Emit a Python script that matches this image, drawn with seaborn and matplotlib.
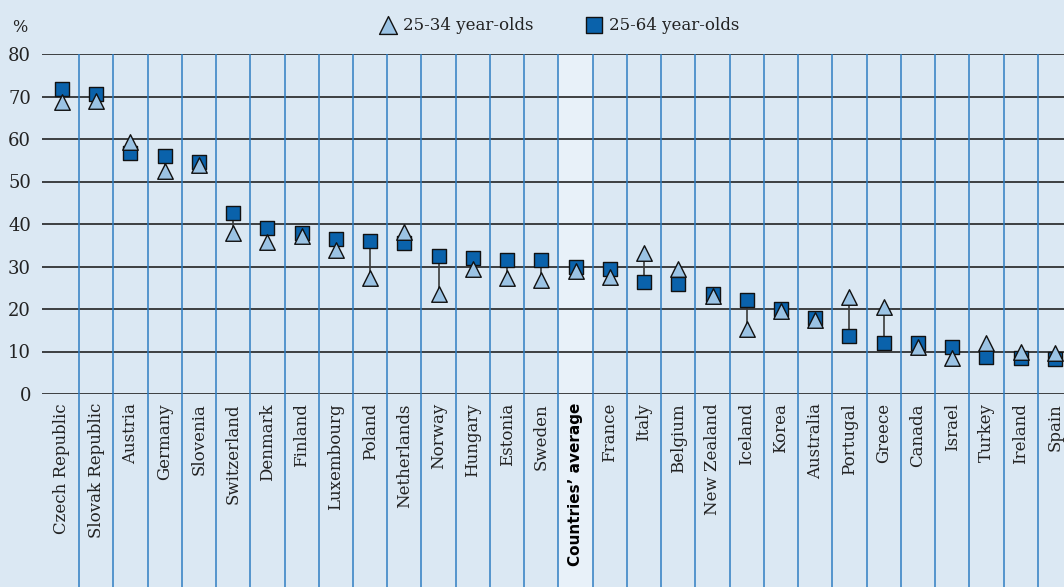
import matplotlib.pyplot as plt
import seaborn as sns
import pandas as pd
from matplotlib.patches import Rectangle

# Data (%)
countries = ["Czech Republic", "Slovak Republic", "Austria", "Germany", "Slovenia",
             "Switzerland", "Denmark", "Finland", "Luxembourg", "Poland",
             "Netherlands", "Norway", "Hungary", "Estonia", "Sweden",
             "Countries\u2019 average", "France", "Italy", "Belgium", "New Zealand",
             "Iceland", "Korea", "Australia", "Portugal", "Greece",
             "Canada", "Israel", "Turkey", "Ireland", "Spain"]
age_25_34 = [68.6, 69.0, 59.3, 52.5, 53.9, 37.8, 35.8, 37.1, 33.8, 27.4,
             38.2, 23.5, 29.5, 27.2, 26.9, 29.0, 27.5, 33.1, 29.3, 23.0,
             15.2, 19.5, 17.4, 22.9, 20.4, 11.0, 8.5, 12.1, 9.8, 9.7]
age_25_64 = [71.7, 70.7, 56.8, 56.0, 54.6, 42.5, 39.1, 37.9, 36.5, 36.1,
             35.5, 32.4, 32.0, 31.6, 31.6, 29.8, 29.4, 26.4, 26.0, 23.5,
             22.1, 20.0, 17.9, 13.6, 12.1, 11.9, 11.0, 8.6, 8.5, 8.2]
avg_label = "Countries\u2019 average"

df = pd.DataFrame({"country": countries, "young": age_25_34, "adult": age_25_64})
df["pos"] = range(len(df))

bg = "#dbe8f3"
sep_blue = "#2f7dc2"
sq_color = "#0a62ab"
tri_color = "#9bc3e4"

sns.set_style("white")
plt.rcParams["font.family"] = ["DejaVu Serif"]
plt.rcParams["text.color"] = "#222222"

fig = plt.figure(figsize=(10.64, 5.87), dpi=100, facecolor=bg)
ax = fig.add_axes([42 / 1064, 193 / 587, 1030 / 1064, 340 / 587])
ax.set_facecolor(bg)
ax.set_xlim(-0.584, 29.5)
ax.set_ylim(0, 80)

# highlighted average column, runs down through label area
avg_i = countries.index(avg_label)
ax.add_patch(Rectangle((avg_i - 0.5, -50), 1, 130, facecolor="#e8f1f9",
                       edgecolor="none", clip_on=False, zorder=0))

# horizontal grid
for v in range(0, 81, 10):
    ax.axhline(v, color="#111111", lw=1.1, zorder=1)

# column separators
ax.vlines([i + 0.5 for i in range(len(countries))], -50, 80, color=sep_blue,
          lw=1.1, clip_on=False, zorder=2)

# connectors between the two age groups
ax.vlines(df["pos"], df[["young", "adult"]].min(axis=1), df[["young", "adult"]].max(axis=1),
          color="#3a3a3a", lw=1.2, zorder=3)

sns.scatterplot(data=df, x="pos", y="adult", marker="s", s=92, color=sq_color,
                edgecolor="#111111", linewidth=1.0, zorder=4, ax=ax, label="25-64 year-olds")
sns.scatterplot(data=df, x="pos", y="young", marker="^", s=125, color=tri_color,
                edgecolor="#111111", linewidth=1.0, zorder=5, ax=ax, label="25-34 year-olds")

for s in ax.spines.values():
    s.set_visible(False)

ax.set_yticks(range(0, 81, 10))
ax.tick_params(axis="y", length=0, pad=8, labelsize=13, labelcolor="#222222")
ax.set_xticks(df["pos"])
ax.set_xticklabels(countries, rotation=90, va="top", ha="center")
ax.tick_params(axis="x", length=0, pad=6.5, labelsize=12, labelcolor="#222222")
for lab in ax.get_xticklabels():
    if lab.get_text() == avg_label:
        lab.set_fontfamily("DejaVu Sans")
        lab.set_fontweight("bold")
        lab.set_fontsize(11)
        lab.set_color("black")
ax.set_xlabel("")
ax.set_ylabel("")

fig.text(20 / 1064, 1 - 28 / 587, "%", fontsize=11.5, ha="center", va="center")

handles, labels = ax.get_legend_handles_labels()
ax.get_legend().remove()
fig.legend(handles[::-1], labels[::-1], loc="center", bbox_to_anchor=(0.525, 1 - 25 / 587),
           ncol=2, frameon=False, fontsize=12, handletextpad=0.3, columnspacing=3.0,
           handlelength=1.2, markerscale=1.15)

plt.savefig("out.png", dpi=100, facecolor=bg)
